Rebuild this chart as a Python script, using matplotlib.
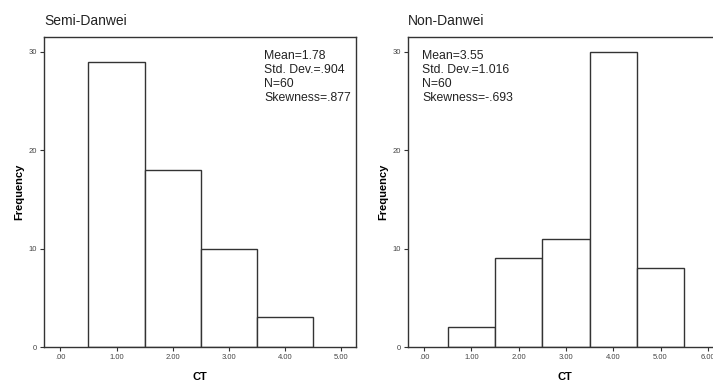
import numpy as np
import matplotlib
matplotlib.use('Agg')
import matplotlib.pyplot as plt

# CT histogram counts
semi_ct = [1, 2, 3, 4]
semi_freq = [29, 18, 10, 3]
non_ct = [1, 2, 3, 4, 5]
non_freq = [2, 9, 11, 30, 8]

semi_stats = ['Mean=1.78', 'Std. Dev.=.904', 'N=60', 'Skewness=.877']
non_stats = ['Mean=3.55', 'Std. Dev.=1.016', 'N=60', 'Skewness=-.693']

semi_ticks = [0, 1, 2, 3, 4, 5]
non_ticks = [0, 1, 2, 3, 4, 5, 6]
y_ticks = [0, 10, 20, 30]

plt.rcParams['font.family'] = ['Liberation Sans', 'DejaVu Sans']
edge = '#333333'

fig = plt.figure(figsize=(7.13, 3.83), dpi=100)
ax1 = fig.add_axes([44/713, 36/383, 312/713, 310/383])
ax2 = fig.add_axes([408/713, 36/383, 314/713, 310/383])

panels = [
    (ax1, semi_ct, semi_freq, semi_stats, semi_ticks, 'Semi-Danwei', (-0.29, 5.26), 0.705),
    (ax2, non_ct, non_freq, non_stats, non_ticks, 'Non-Danwei', (-0.34, 6.3), 0.045),
]

for ax, ct, freq, stats, ticks, title, xl, tx in panels:
    ax.bar(ct, freq, width=1.0, color='white', edgecolor=edge, linewidth=1.0)
    ax.set_xlim(*xl)
    ax.set_ylim(0, 31.5)
    ax.set_xticks(ticks)
    ax.set_xticklabels(['.00' if t == 0 else '%.2f' % t for t in ticks])
    ax.set_yticks(y_ticks)
    ax.tick_params(axis='both', labelsize=5.5, length=3, width=0.8,
                   color=edge, labelcolor='#444444', pad=2)
    for s in ax.spines.values():
        s.set_color(edge)
        s.set_linewidth(1.0)
    ax.set_xlabel('CT', fontsize=8, fontweight='bold', labelpad=8)
    ax.set_ylabel('Frequency', fontsize=8, fontweight='bold', labelpad=3)
    ax.text(0, 1.028, title, transform=ax.transAxes, fontsize=10,
            ha='left', va='bottom', color='#222222')
    ax.text(tx, 0.958, '\n'.join(stats), transform=ax.transAxes, fontsize=8.8,
            ha='left', va='top', linespacing=1.22, color='#222222')

fig.savefig('out.png', dpi=100)
